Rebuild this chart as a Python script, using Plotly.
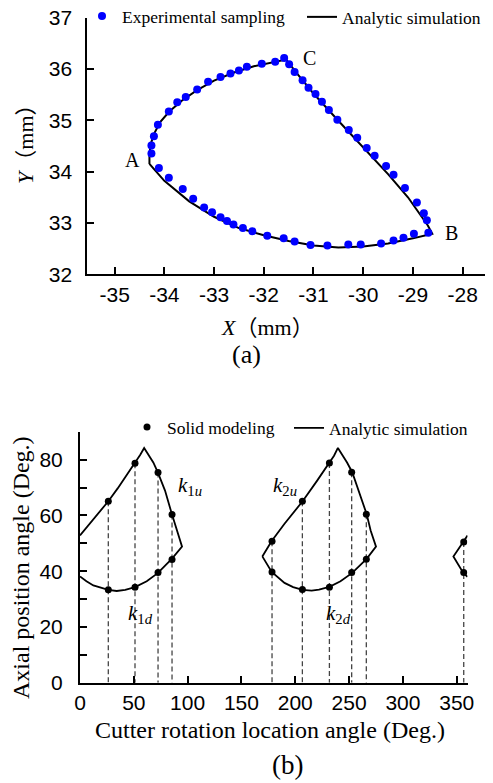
import plotly.graph_objects as go

# page body has an 8px default margin; the figure is sized to fill the rest of the 493x783 window
OFF = 8
W, H = 493 - OFF, 783 - OFF

# ---------------- (a) data ----------------
exp_x = [-34.26, -34.26, -34.21, -34.13, -33.91, -33.74, -33.57, -33.34, -33.12, -32.87, -32.67, -32.50,
         -32.34, -32.04, -31.77, -31.59,
         -31.49, -31.38, -31.22, -31.10, -30.96, -30.83, -30.69, -30.52, -30.29, -30.12, -29.93, -29.77,
         -29.54, -29.39, -29.16, -28.92, -28.78, -28.72, -28.69,
         -28.98, -29.19, -29.39, -29.64, -30.05, -30.30, -30.72, -31.06, -31.38, -31.60, -31.93, -32.23,
         -32.42, -32.61, -32.74, -32.87, -33.04, -33.20, -33.42, -33.63, -33.91, -34.11]
exp_y = [34.35, 34.51, 34.69, 34.91, 35.17, 35.35, 35.45, 35.60, 35.75, 35.84, 35.91, 35.97,
         36.04, 36.10, 36.14, 36.21,
         36.09, 35.94, 35.78, 35.63, 35.51, 35.36, 35.20, 35.01, 34.81, 34.66, 34.46, 34.31,
         34.11, 33.94, 33.68, 33.40, 33.19, 33.05, 32.81,
         32.79, 32.71, 32.66, 32.60, 32.58, 32.58, 32.56, 32.57, 32.64, 32.70, 32.75, 32.84,
         32.90, 32.97, 33.04, 33.11, 33.21, 33.30, 33.47, 33.66, 33.88, 34.07]

sim_a_x = [-34.30, -34.30, -34.27, -34.20, -34.08, -33.90, -33.65, -33.35, -33.00, -32.60, -32.20, -31.80, -31.55,
           -31.35, -31.00, -30.50, -30.00, -29.50, -29.10, -28.85, -28.70, -28.61,
           -29.00, -29.50, -30.00, -30.50, -31.00, -31.50, -32.00, -32.50, -33.00, -33.50, -34.00, -34.30]
sim_a_y = [34.15, 34.35, 34.55, 34.75, 34.97, 35.17, 35.38, 35.58, 35.77, 35.93, 36.05, 36.13, 36.18,
           35.93, 35.52, 34.99, 34.46, 33.95, 33.50, 33.15, 32.95, 32.79,
           32.70, 32.60, 32.54, 32.52, 32.56, 32.65, 32.76, 32.90, 33.12, 33.42, 33.82, 34.15]

a_x_ticks = [-35, -34, -33, -32, -31, -30, -29, -28]
a_y_ticks = [32, 33, 34, 35, 36, 37]
point_labels = ["A", "B", "C"]
point_label_x = [-34.64, -28.22, -31.08]
point_label_y = [34.22, 32.81, 36.22]

# ---------------- (b) data ----------------
solid_x = [26.3, 26.3, 51.1, 51.1, 72.5, 72.5, 85.5, 85.5,
           178.4, 178.4, 206.6, 206.6, 231.7, 231.7, 252.4, 252.4, 266.0, 266.0,
           356.5, 356.5]
solid_y = [33.3, 65.1, 78.7, 34.2, 75.4, 39.5, 60.3, 44.2,
           50.7, 39.7, 65.1, 33.4, 78.8, 34.2, 75.5, 39.5, 60.4, 44.3,
           50.5, 39.5]

sim1_x = [0, 10, 20, 26.3, 35, 45, 51.1, 56, 59.6,
          63.5, 68.1, 72.2, 79.0, 85.5, 89.8, 94.8,
          85.5, 72.2, 62.0, 51.1, 42.0, 34.1, 26.3, 18.0, 12.4, 6.0, 0]
sim1_y = [52.8, 57.4, 62.0, 65.1, 69.7, 75.3, 78.7, 81.8, 84.2,
          82.0, 79.0, 75.5, 68.9, 60.3, 54.6, 48.8,
          44.5, 39.3, 36.4, 34.3, 33.3, 32.9, 33.3, 34.2, 34.9, 36.4, 38.1]
sim2_x = [169.4, 178.1, 190.0, 206.8, 220.0, 231.7, 236.0, 239.6,
          243.5, 248.1, 252.9, 259.0, 266.3, 270.0, 275.0,
          266.3, 252.9, 242.0, 231.7, 222.0, 215.2, 206.8, 198.0, 190.0, 178.1, 169.4]
sim2_y = [45.3, 50.8, 57.0, 65.1, 72.3, 78.7, 81.4, 84.2,
          82.0, 79.0, 75.5, 68.8, 60.5, 54.6, 48.8,
          44.4, 39.4, 36.4, 34.4, 33.4, 33.0, 33.3, 34.3, 35.8, 39.7, 45.3]
sim3_x = [360.0, 356.1, 346.9, 356.1, 360.0]
sim3_y = [52.8, 50.7, 45.3, 39.4, 38.0]

b_x_ticks = [0, 50, 100, 150, 200, 250, 300, 350]
b_y_ticks = [0, 10, 20, 30, 40, 50, 60, 70, 80, 90]
k_labels = ["<i>k</i><sub>1<i>u</i></sub>", "<i>k</i><sub>1<i>d</i></sub>",
            "<i>k</i><sub>2<i>u</i></sub>", "<i>k</i><sub>2<i>d</i></sub>"]
k_x = [102.5, 56.0, 190.5, 240.0]
k_y = [70.5, 24.5, 70.5, 24.5]

# ------------------------------------------------
SERIF = "Liberation Serif, Times New Roman, serif"
SANS = "Liberation Sans, Arial, sans-serif"
CJK = "Noto Sans CJK SC"


def px_x(p):
    return (p - OFF) / W


def px_y(p):
    return 1 - (p - OFF) / H


fig = go.Figure()

# (a) traces
fig.add_trace(go.Scatter(x=sim_a_x, y=sim_a_y, mode="lines", line=dict(color="black", width=2),
                         name="Analytic simulation", xaxis="x", yaxis="y", legend="legend2"))
fig.add_trace(go.Scatter(x=exp_x, y=exp_y, mode="markers", marker=dict(color="#0000FF", size=8),
                         name="Experimental sampling", xaxis="x", yaxis="y", legend="legend"))

# (b) drop lines built from solid modeling points (top point of each x down to 0)
tops = {}
for xv, yv in zip(solid_x, solid_y):
    tops[xv] = max(tops.get(xv, 0), yv)
dx, dy = [], []
for xv, yv in tops.items():
    dx += [xv, xv, None]
    dy += [yv, 0, None]
fig.add_trace(go.Scatter(x=dx, y=dy, mode="lines", line=dict(color="#444444", width=1.3, dash="5px,3px"),
                         showlegend=False, xaxis="x2", yaxis="y2", hoverinfo="skip"))

bx = sim1_x + [None] + sim2_x + [None] + sim3_x
by = sim1_y + [None] + sim2_y + [None] + sim3_y
fig.add_trace(go.Scatter(x=bx, y=by, mode="lines", line=dict(color="black", width=1.8),
                         name="Analytic simulation", xaxis="x2", yaxis="y2", legend="legend4"))
fig.add_trace(go.Scatter(x=solid_x, y=solid_y, mode="markers", marker=dict(color="black", size=7),
                         name="Solid modeling", xaxis="x2", yaxis="y2", legend="legend3"))

axis_common = dict(showline=True, linecolor="black", linewidth=2, mirror=False, ticks="inside",
                   ticklen=7, tickwidth=1.5, tickcolor="black", showgrid=False, zeroline=False,
                   automargin=False, tickangle=0,
                   tickfont=dict(family=SANS, size=21, color="black"), tickmode="array")

legend_common = dict(orientation="h", bgcolor="rgba(0,0,0,0)", borderwidth=0,
                     font=dict(family=SERIF, size=17.5, color="black"),
                     xanchor="left", yanchor="middle", itemwidth=30)

fig.update_layout(
    width=W, height=H, margin=dict(l=0, r=0, t=0, b=0, autoexpand=False),
    paper_bgcolor="white", plot_bgcolor="white",
    xaxis=dict(axis_common, domain=[px_x(87.3), px_x(485)], range=[-35.55, -27.55],
               tickvals=a_x_ticks + [-27.55], ticktext=[str(v) for v in a_x_ticks] + [" "],
               anchor="y", ticklabelstandoff=0),
    yaxis=dict(axis_common, domain=[px_y(274.3), px_y(17.5)], range=[32, 37],
               tickvals=a_y_ticks, ticktext=[str(v) for v in a_y_ticks], anchor="x",
               ticklabelstandoff=9),
    xaxis2=dict(axis_common, domain=[px_x(80), px_x(467.5)], range=[0, 360],
                tickvals=b_x_ticks + [360], ticktext=[str(v) for v in b_x_ticks] + [" "],
                anchor="y2", ticklabelstandoff=0),
    yaxis2=dict(axis_common, domain=[px_y(682.7), px_y(431.8)], range=[0, 90],
                tickvals=b_y_ticks, ticktext=[str(v) if v % 20 == 0 else " " for v in b_y_ticks],
                anchor="x2", ticklabelstandoff=11),
    legend=dict(legend_common, x=px_x(82), y=px_y(16)),
    legend2=dict(legend_common, x=px_x(302), y=px_y(17)),
    legend3=dict(legend_common, x=px_x(127), y=px_y(427)),
    legend4=dict(legend_common, x=px_x(289), y=px_y(428)),
    showlegend=True,
)

ann = []
for t, xv, yv in zip(point_labels, point_label_x, point_label_y):
    ann.append(dict(text=t, x=xv, y=yv, xref="x", yref="y", showarrow=False,
                    xanchor="center", yanchor="middle",
                    font=dict(family=SERIF, size=20, color="black")))
for t, xv, yv in zip(k_labels, k_x, k_y):
    ann.append(dict(text=t, x=xv, y=yv, xref="x2", yref="y2", showarrow=False,
                    xanchor="center", yanchor="middle",
                    font=dict(family=SERIF, size=21, color="black")))


def title(text, xp, yp, size, angle=0):
    return dict(text=text, x=px_x(xp), y=px_y(yp), xref="paper", yref="paper", showarrow=False,
                xanchor="center", yanchor="middle", textangle=angle,
                font=dict(family=SERIF, size=size, color="black"))


LP = '<span style="font-family:%s">（</span>' % CJK
RP = '<span style="font-family:%s">）</span>' % CJK
ann.append(title("<i>X</i>" + LP + "mm" + RP, 267, 325, 22))
ann.append(title("<i>Y</i>" + LP + "mm" + RP, 23, 139, 22, -90))
ann.append(title("(a)", 246, 354, 26))
ann.append(title("Cutter rotation location angle (Deg.)", 270, 730, 24))
ann.append(title("Axial position angle (Deg.)", 21, 568, 24, -90))
ann.append(title("(b)", 287, 765, 27))
fig.update_layout(annotations=ann)

fig.write_html("out.html")
